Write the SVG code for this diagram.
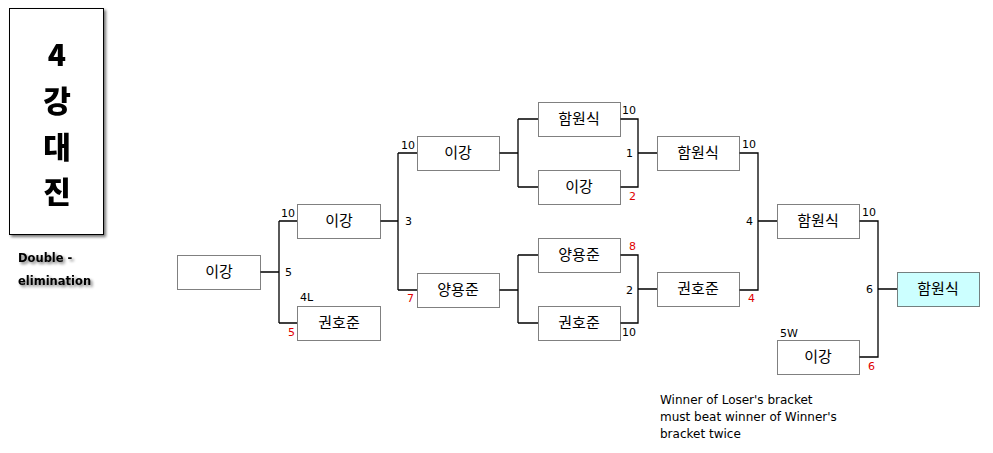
<svg xmlns="http://www.w3.org/2000/svg" width="993" height="453" viewBox="0 0 993 453">
<defs>
<filter id="sh" x="-20%" y="-20%" width="150%" height="150%">
<feGaussianBlur in="SourceAlpha" stdDeviation="1.5"/>
<feOffset dx="2" dy="2" result="b"/>
<feComponentTransfer><feFuncA type="linear" slope="0.55"/></feComponentTransfer>
<feMerge><feMergeNode/><feMergeNode in="SourceGraphic"/></feMerge>
</filter>
</defs>
<style>
.box{fill:#fff;stroke:#000;stroke-width:1;stroke-dasharray:1 1}
.win{fill:#ccffff}
.nm{font-family:"Noto Sans CJK KR","Noto Sans",sans-serif;font-size:15px;text-anchor:middle;fill:#000}
.sc{font-family:"DejaVu Sans","Liberation Sans",sans-serif;font-size:11px;fill:#000}
.red{fill:#e00000}
.ln{fill:none;stroke:#000;stroke-width:1.3}
.title{font-family:"Noto Sans CJK KR",sans-serif;font-weight:900;font-size:30px;text-anchor:middle;fill:#000}
.note{font-family:"DejaVu Sans","Liberation Sans",sans-serif;font-size:12px;fill:#000}
.lbl{font-family:"DejaVu Sans","Liberation Sans",sans-serif;font-size:11.5px;font-weight:bold;fill:#000}
</style>
<rect width="993" height="453" fill="#fff"/>
<g id="title" filter="url(#sh)">
<rect x="9.5" y="8.5" width="94" height="226" fill="#fff" stroke="#000" stroke-width="1"/>
<text class="title" x="57" y="66">4</text>
<text class="title" x="57" y="112">강</text>
<text class="title" x="57" y="158">대</text>
<text class="title" x="57" y="203">진</text>
</g>
<g id="subtitle" filter="url(#sh)">
<text class="lbl" x="18" y="262">Double -</text>
<text class="lbl" x="18" y="285">elimination</text>
</g>
<g id="connectors">
<path class="ln" d="M260 272H279M279 221V323M279 221H297M279 323H297"/>
<path class="ln" d="M380 221H398M398 153V290M398 153H417M398 290H417"/>
<path class="ln" d="M499 153H518M518 119V187M518 119H538M518 187H538"/>
<path class="ln" d="M499 290H518M518 255V323M518 255H538M518 323H538"/>
<path class="ln" d="M620 119H638V187H620M638 153H657"/>
<path class="ln" d="M620 255H638V323H620M638 289H657"/>
<path class="ln" d="M739 153H758V290H739M758 221H777"/>
<path class="ln" d="M859 221H878V357H859M878 289H897"/>
</g>
<g id="n1"><rect class="box" x="177.5" y="255.5" width="83" height="34"/><text class="nm" x="219" y="277">이강</text></g>
<g id="n2"><rect class="box" x="297.5" y="204.5" width="83" height="34"/><text class="nm" x="339" y="226">이강</text></g>
<g id="n3"><rect class="box" x="297.5" y="306.5" width="83" height="34"/><text class="nm" x="339" y="328">권호준</text></g>
<g id="n4"><rect class="box" x="417.5" y="136.5" width="82" height="34"/><text class="nm" x="458" y="158">이강</text></g>
<g id="n5"><rect class="box" x="417.5" y="273.5" width="82" height="34"/><text class="nm" x="458" y="295">양용준</text></g>
<g id="n6"><rect class="box" x="538.5" y="102.5" width="82" height="34"/><text class="nm" x="579" y="124">함원식</text></g>
<g id="n7"><rect class="box" x="538.5" y="170.5" width="82" height="34"/><text class="nm" x="579" y="192">이강</text></g>
<g id="n8"><rect class="box" x="538.5" y="238.5" width="82" height="34"/><text class="nm" x="579" y="260">양용준</text></g>
<g id="n9"><rect class="box" x="538.5" y="306.5" width="82" height="34"/><text class="nm" x="579" y="328">권호준</text></g>
<g id="n10"><rect class="box" x="657.5" y="136.5" width="82" height="34"/><text class="nm" x="698" y="158">함원식</text></g>
<g id="n11"><rect class="box" x="657.5" y="272.5" width="82" height="34"/><text class="nm" x="698" y="294">권호준</text></g>
<g id="n12"><rect class="box" x="777.5" y="204.5" width="82" height="34"/><text class="nm" x="818" y="226">함원식</text></g>
<g id="n13"><rect class="box" x="777.5" y="340.5" width="82" height="34"/><text class="nm" x="818" y="362">이강</text></g>
<g id="n14"><rect class="box win" x="897.5" y="272.5" width="82" height="34"/><text class="nm" x="938" y="294">함원식</text></g>
<g id="scores">
<text class="sc" x="281" y="217">10</text>
<text class="sc" x="285" y="276">5</text>
<text class="sc" x="300" y="301">4L</text>
<text class="sc red" x="288" y="336">5</text>
<text class="sc" x="401" y="149">10</text>
<text class="sc" x="405" y="225">3</text>
<text class="sc red" x="407" y="302">7</text>
<text class="sc" x="622" y="114">10</text>
<text class="sc" x="626" y="157">1</text>
<text class="sc red" x="629" y="200">2</text>
<text class="sc red" x="629" y="250">8</text>
<text class="sc" x="626" y="294">2</text>
<text class="sc" x="622" y="336">10</text>
<text class="sc" x="742" y="148">10</text>
<text class="sc" x="746" y="225">4</text>
<text class="sc red" x="748" y="302">4</text>
<text class="sc" x="862" y="216">10</text>
<text class="sc" x="866" y="293">6</text>
<text class="sc red" x="868" y="370">6</text>
<text class="sc" x="780" y="337">5W</text>
</g>
<g id="note">
<text class="note" x="660" y="404">Winner of Loser's bracket</text>
<text class="note" x="660" y="421">must beat winner of Winner's</text>
<text class="note" x="660" y="438">bracket twice</text>
</g>
</svg>
